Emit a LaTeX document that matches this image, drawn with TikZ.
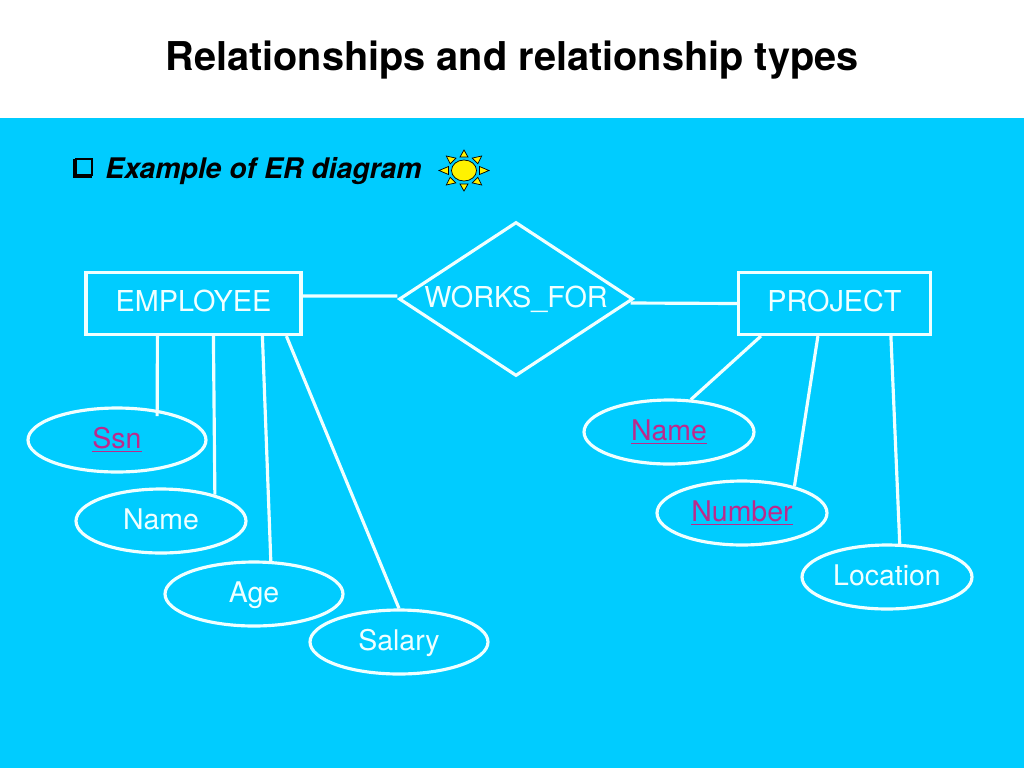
\documentclass[tikz,border=0pt]{standalone}
\usepackage{fontspec}
\setmainfont{TeX Gyre Heros}
\usetikzlibrary{positioning,shapes.geometric}
\definecolor{skyback}{HTML}{00CCFF}
\definecolor{keypink}{HTML}{BC2A8C}
\definecolor{pale}{HTML}{F0FFFF}
\newsavebox{\keybox}
\newcommand{\keyline}[1]{\sbox{\keybox}{#1}\rlap{\usebox{\keybox}}\rule[-2pt]{\wd\keybox}{1pt}}
\begin{document}
\begin{tikzpicture}[
    x = 0.02cm, % one reference pixel
    y = -0.02cm,
    wire/.style = {draw = pale, line width = 1.8pt},
    entity/.style = {rectangle, wire, inner sep = 0pt, text = pale, text height = 11.8pt, text depth = 2.8pt, font = \fontsize{16.4}{19}\selectfont},
    relation/.style = {diamond, wire, inner sep = 0pt, aspect = 1.52, minimum width = 4.68cm, minimum height = 3.08cm, text = pale, font = \fontsize{16.4}{19}\selectfont},
    attr/.style = {ellipse, wire, inner sep = 0pt, minimum height = 1.28cm, text = pale, text height = 11.8pt, text depth = 1.6pt, font = \fontsize{16.2}{19}\selectfont},
    keyattr/.style = {attr, text = keypink}
    ]
    % page and header
    \path[fill = white] (0,0) rectangle (1024,768);
    \path[fill = skyback] (0,118) rectangle (1024,768);
    \node[font = \fontsize{22.6}{26}\selectfont\bfseries, text = black] (title) at (512,60.5) {Relationships and relationship types};
    \node[fill = black, minimum size = 0.38cm, inner sep = 0pt] (bulletshade) at (82.8,168) {};
    \node[draw = black, fill = skyback, line width = 0.9pt, minimum size = 0.32cm, inner sep = 0pt] (bullet) at (83.8,167) {};
    \node[font = \fontsize{16.15}{19}\selectfont\bfseries\itshape, text = black, anchor = west, inner sep = 0pt] (subtitle) at (105,171) {Example of ER diagram};
    % sun
    \foreach \ang in {0,45,...,315} {
        \draw[black, fill = yellow, line width = 0.4pt]
            (464+25*cos \ang, 170.5-20.5*sin \ang)
            -- (464+15.5*cos \ang-4*sin \ang, 170.5-13.5*sin \ang-4*cos \ang)
            -- (464+15.5*cos \ang+4*sin \ang, 170.5-13.5*sin \ang+4*cos \ang) -- cycle;
    }
    \node[ellipse, draw = black, fill = yellow, line width = 0.4pt, minimum width = 0.5cm, minimum height = 0.42cm, inner sep = 0pt] (sun) at (464,170.5) {};
    % entities and relationship
    \node[entity, minimum width = 4.3cm, minimum height = 1.24cm] (employee) at (193.5,303.5) {EMPLOYEE};
    \node[entity, minimum width = 3.84cm, minimum height = 1.24cm] (project) at (834.5,303.5) {PROJECT};
    \node[relation] (worksfor) at (516,299) {WORKS\_FOR};
    % attributes
    \node[keyattr, minimum width = 3.56cm] (ssn) at (117,440) {\keyline{Ssn}};
    \node[attr, minimum width = 3.4cm] (empname) at (161,521) {Name};
    \node[attr, minimum width = 3.56cm] (age) at (254,594) {Age};
    \node[attr, minimum width = 3.56cm] (salary) at (399,642) {Salary};
    \node[keyattr, minimum width = 3.4cm] (prjname) at (669,432) {\keyline{Name}};
    \node[keyattr, minimum width = 3.4cm] (number) at (742,513) {\keyline{Number}};
    \node[attr, minimum width = 3.4cm] (location) at (887,577) {Location};
    % connectors
    \draw[wire] ([yshift = 0.15cm]employee.east) -- ([yshift = 0.06cm]worksfor.west);
    \draw[wire] ([xshift = -0.08cm, yshift = -0.08cm]worksfor.east) -- (project.west);
    \draw[wire, shorten > = -3.4pt] ([xshift = 1.46cm]employee.south west) -- ([xshift = -0.02cm]ssn.36);
    \draw[wire] ([xshift = 2.58cm]employee.south west) -- (empname.26);
    \draw[wire] ([xshift = 3.56cm]employee.south west) -- (age.63);
    \draw[wire] ([xshift = 4.04cm]employee.south west) -- (salary.north);
    \draw[wire] ([xshift = 0.48cm]project.south west) -- (prjname.56);
    \draw[wire] ([xshift = 1.62cm]project.south west) -- (number.27);
    \draw[wire] ([xshift = 3.08cm]project.south west) -- (location.69);
\end{tikzpicture}
\end{document}
